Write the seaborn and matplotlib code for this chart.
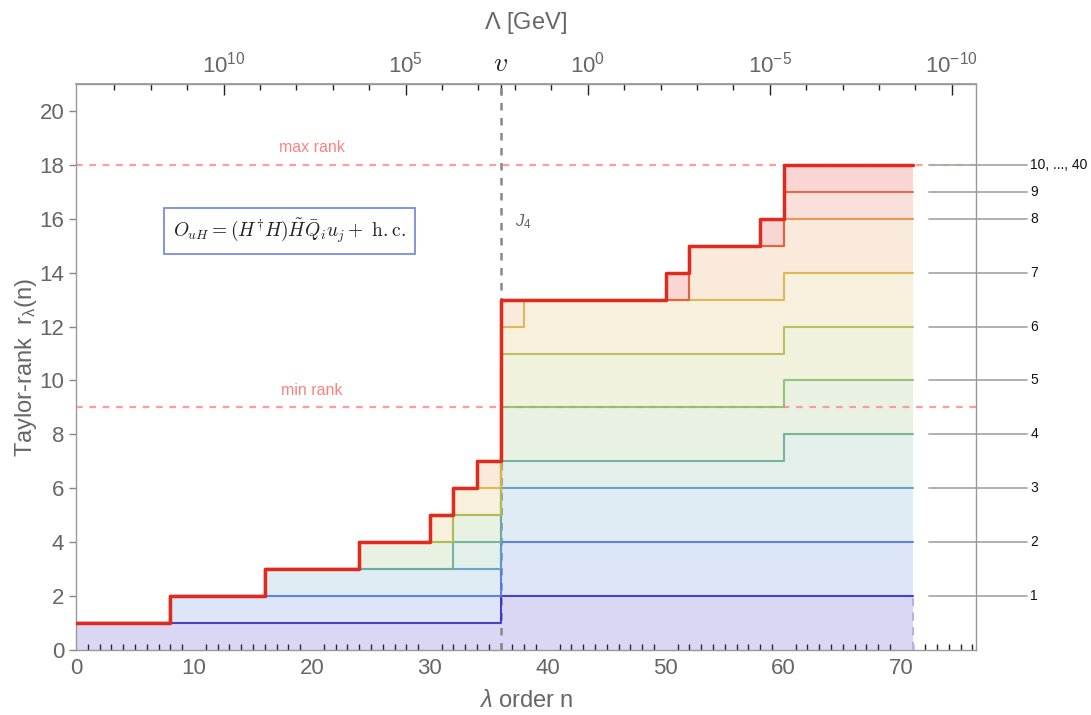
import numpy as np
import pandas as pd
import matplotlib
matplotlib.use("Agg")
import matplotlib.pyplot as plt
import seaborn as sns

# ---- data ----
n_breaks = [0, 8, 16, 24, 30, 32, 34, 36, 38, 50, 52, 58, 60, 71]
curve_1 = [1, 1, 1, 1, 1, 1, 1, 2, 2, 2, 2, 2, 2]
curve_2 = [1, 2, 2, 2, 2, 2, 2, 4, 4, 4, 4, 4, 4]
curve_3 = [1, 2, 3, 3, 3, 3, 3, 6, 6, 6, 6, 6, 6]
curve_4 = [1, 2, 3, 3, 3, 4, 4, 7, 7, 7, 7, 7, 8]
curve_5 = [1, 2, 3, 4, 4, 5, 5, 9, 9, 9, 9, 9, 10]
curve_6 = [1, 2, 3, 4, 4, 5, 5, 11, 11, 11, 11, 11, 12]
curve_7 = [1, 2, 3, 4, 5, 6, 6, 12, 13, 13, 13, 13, 14]
curve_8 = [1, 2, 3, 4, 5, 6, 7, 13, 13, 13, 15, 15, 16]
curve_9 = [1, 2, 3, 4, 5, 6, 7, 13, 13, 13, 15, 15, 17]
curve_10 = [1, 2, 3, 4, 5, 6, 7, 13, 13, 14, 15, 16, 18]
curves = [curve_1, curve_2, curve_3, curve_4, curve_5,
          curve_6, curve_7, curve_8, curve_9, curve_10]
curve_labels = ["1", "2", "3", "4", "5", "6", "7", "8", "9", "10, ..., 40"]
colors = ["#3a2fc0", "#4f7adb", "#5b9ec4", "#6aae96", "#8cbe6a",
          "#b4bc50", "#d9b44a", "#e6904a", "#e25e3c", "#e0291f"]

max_rank = 18
min_rank = 9
n_vev = 36
v_gev = 246.0
lam = 0.225
top_decades = [10, 5, 0, -5, -10]
top_labels = ["$10^{10}$", "$10^{5}$", "$10^{0}$", "$10^{-5}$", "$10^{-10}$"]

# ---- style ----
sns.set_theme(style="white")
plt.rcParams['font.family'] = ['Liberation Sans', 'DejaVu Sans']
plt.rcParams['mathtext.fontset'] = 'custom'
plt.rcParams['mathtext.rm'] = 'Liberation Sans'
plt.rcParams['mathtext.it'] = 'Liberation Sans:italic'
gray = "#666666"

fig = plt.figure(figsize=(10.91, 7.15), dpi=100)
ax = fig.add_axes([0.0697, 0.0909, 0.8249, 0.7916])

x_ext = n_breaks
prev = [0] * (len(n_breaks) - 1)
for i, c in enumerate(curves):
    y_ext = c + [c[-1]]
    lo_ext = prev + [prev[-1]]
    ax.fill_between(x_ext, lo_ext, y_ext, step="post", color=colors[i],
                    alpha=0.19, linewidth=0, zorder=1)
    prev = c

rows = []
for i, c in enumerate(curves):
    for x, y in zip(n_breaks, c + [c[-1]]):
        rows.append({"n": x, "r": y, "k": curve_labels[i]})
df = pd.DataFrame(rows)

for i, lab in enumerate(curve_labels):
    sub = df[df["k"] == lab]
    lw = 2.5 if i == len(curve_labels) - 1 else 1.5
    sns.lineplot(data=sub, x="n", y="r", ax=ax, drawstyle="steps-post",
                 color=colors[i], linewidth=lw, alpha=0.9 if i < 9 else 1.0,
                 zorder=3 + i, legend=False, estimator=None, sort=False)

# light dashed right edge of bottom band
ax.plot([n_breaks[-1], n_breaks[-1]], [0, curve_1[-1]], color="#b8b0ee",
        linestyle=(0, (4, 3)), linewidth=1.5, zorder=2)

# rank lines
ax.axhline(max_rank, color="#ff8c8c", linestyle=(0, (3, 3)), linewidth=1.6,
           alpha=0.85, zorder=2)
ax.axhline(min_rank, color="#ff8c8c", linestyle=(0, (3, 3)), linewidth=1.6,
           alpha=0.85, zorder=2)
ax.text(20, max_rank + 0.35, "max rank", color="#ff8080", fontsize=11.5,
        ha="center", va="bottom")
ax.text(20, min_rank + 0.35, "min rank", color="#ff8080", fontsize=11.5,
        ha="center", va="bottom")

# vev line
ax.axvline(n_vev, color="#888888", linestyle=(0, (3, 3)), linewidth=1.8,
           zorder=2.5)
ax.text(37.2, 15.9, "$J_4$", color=gray, fontsize=12, ha="left", va="center")

# operator box
ax.text(18.1, 15.55,
        r"$O_{uH} = (H^{\dagger}H)\tilde{H}\bar{Q}_i u_j +\ \mathrm{h.c.}$",
        fontsize=14, ha="center", va="center", color="#222222",
        math_fontfamily="cm",
        bbox=dict(boxstyle="square,pad=0.45", facecolor="white",
                  edgecolor="#6d82e0", linewidth=1.2), zorder=25)

# right annotations
for i, c in enumerate(curves):
    yv = c[-1]
    ax.plot([72.3, 80.6], [yv, yv], color="#aaaaaa", linewidth=1.3,
            clip_on=False, zorder=2)
    ax.text(80.9, yv, curve_labels[i], fontsize=10, color="#111111",
            ha="left", va="center", clip_on=False)

# axes
ax.set_xlim(0, 76.3)
ax.set_ylim(0, 21)
ax.set_xticks(np.arange(0, 71, 10))
ax.set_xticks(np.arange(0, 77, 1), minor=True)
ax.set_yticks(np.arange(0, 21, 2))
ax.tick_params(axis="x", which="major", direction="in", length=8, width=1,
               color="#222222", labelsize=16, labelcolor=gray, pad=6)
ax.tick_params(axis="x", which="minor", direction="in", length=4, width=1,
               color="#222222", bottom=True)
ax.tick_params(axis="y", which="major", direction="out", length=5, width=1,
               color="#888888", labelsize=16, labelcolor=gray, left=True)
ax.set_xlabel("$\\lambda$ order n", fontsize=17, color=gray, labelpad=8)
ax.set_ylabel("Taylor-rank  $\\mathregular{r_\\lambda(n)}$", fontsize=17,
              color=gray, labelpad=0)
for s in ax.spines.values():
    s.set_color("#999999")
    s.set_linewidth(1.0)
    s.set_visible(True)


def fwd(n):
    return np.log10(v_gev) + (np.asarray(n) - n_vev) / 2.0 * np.log10(lam)


def inv(L):
    return n_vev + 2.0 * (np.asarray(L) - np.log10(v_gev)) / np.log10(lam)


top = ax.secondary_xaxis("top", functions=(fwd, inv))
top_ticks = [10, 5, float(np.log10(v_gev)), 0, -5, -10]
top_ticklabels = [top_labels[0], top_labels[1], "$v$", top_labels[2],
                  top_labels[3], top_labels[4]]
top.set_xticks(top_ticks)
top.set_xticklabels(top_ticklabels)
top.set_xticks(np.arange(-11, 14, 1), minor=True)
top.tick_params(axis="x", which="major", direction="in", length=8, width=1,
                color="#222222", labelsize=16, labelcolor=gray, pad=5)
top.tick_params(axis="x", which="minor", direction="in", length=4, width=1,
                color="#222222", top=True)
for lbl in top.get_xticklabels():
    if lbl.get_text() == "$v$":
        lbl.set_color("#222222")
        lbl.set_fontsize(20)
        lbl.set_math_fontfamily("cm")
top.set_xlabel("$\\Lambda$ [GeV]", fontsize=17, color=gray, labelpad=16)
top.spines["top"].set_color("#999999")

fig.savefig("out.png", dpi=100)
